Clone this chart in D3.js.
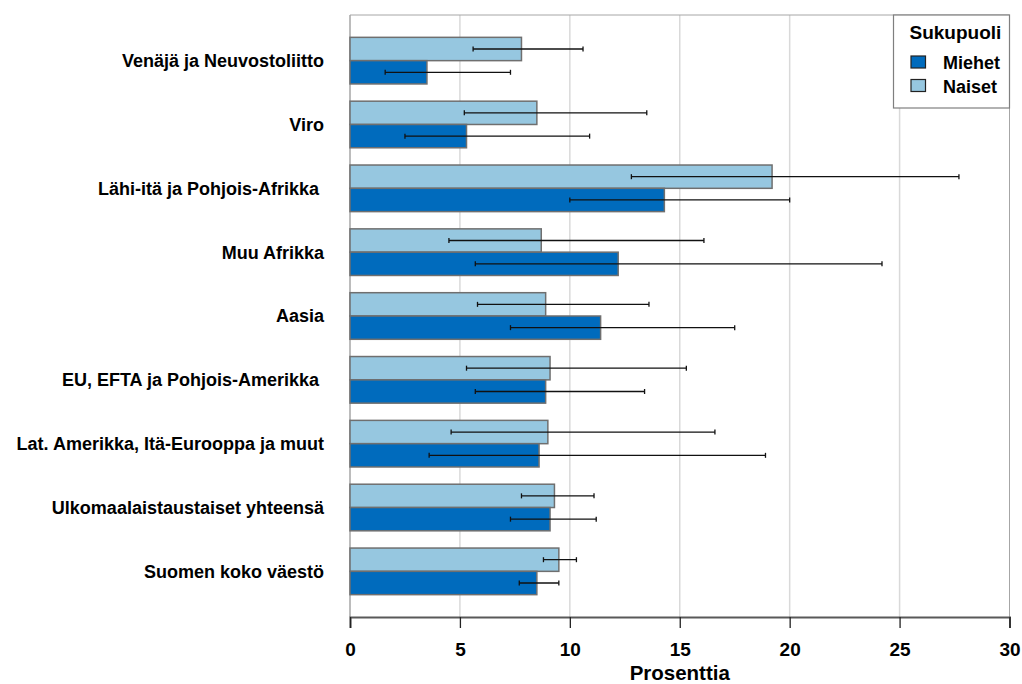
<!DOCTYPE html>
<html><head><meta charset="utf-8">
<script src="https://cdn.jsdelivr.net/npm/d3@7"></script>
<style>
body{margin:0;background:#fff}
text{font-family:"Liberation Sans",Arial,sans-serif;fill:#000}
</style>
</head><body><svg id="c" width="1022" height="684"></svg>
<script>
const categories = ["Venäjä ja Neuvostoliitto","Viro","Lähi-itä ja Pohjois-Afrikka\u00a0","Muu Afrikka","Aasia","EU, EFTA ja Pohjois-Amerikka\u00a0","Lat. Amerikka, Itä-Eurooppa ja muut","Ulkomaalaistaustaiset yhteensä","Suomen koko väestö"];
const seriesNames = ["Naiset","Miehet"];
const legendOrder = ["Miehet","Naiset"];
const naiset     = [7.8, 8.5, 19.2, 8.7, 8.9, 9.1, 9.0, 9.3, 9.5];
const naisetLow  = [5.6, 5.2, 12.8, 4.5, 5.8, 5.3, 4.6, 7.8, 8.8];
const naisetHigh = [10.6, 13.5, 27.7, 16.1, 13.6, 15.3, 16.6, 11.1, 10.3];
const miehet     = [3.5, 5.3, 14.3, 12.2, 11.4, 8.9, 8.6, 9.1, 8.5];
const miehetLow  = [1.6, 2.5, 10.0, 5.7, 7.3, 5.7, 3.6, 7.3, 7.7];
const miehetHigh = [7.3, 10.9, 20.0, 24.2, 17.5, 13.4, 18.9, 11.2, 9.5];
const xTicks = [0, 5, 10, 15, 20, 25, 30];
const xTitle = "Prosenttia";
const legendTitle = "Sukupuoli";

const colors = {Miehet: "#006bbd", Naiset: "#96c7e0"};
const values = {Naiset: naiset, Miehet: miehet};
const lows = {Naiset: naisetLow, Miehet: miehetLow};
const highs = {Naiset: naisetHigh, Miehet: miehetHigh};

const L = 350, R = 1009.5, T = 15, B = 617;
const svg = d3.select("#c");
const x = d3.scaleLinear().domain([0, 30]).range([L, R]);
const y = d3.scaleBand().domain(categories).range([T, B]).paddingInner(0.27).paddingOuter(0.35);
const ys = d3.scaleBand().domain(seriesNames).range([0, y.bandwidth()]);

// gridlines
svg.append("g").selectAll("line").data(xTicks.filter(t => t > 0 && t < 30)).join("line")
  .attr("x1", d => x(d)).attr("x2", d => x(d)).attr("y1", T).attr("y2", B)
  .attr("stroke", "#d9d9d9").attr("stroke-width", 1.5);

// frame
svg.append("line").attr("x1", L).attr("x2", R).attr("y1", T).attr("y2", T).attr("stroke", "#a6a6a6").attr("stroke-width", 1);
svg.append("line").attr("x1", R).attr("x2", R).attr("y1", T).attr("y2", B).attr("stroke", "#a6a6a6").attr("stroke-width", 1);
svg.append("line").attr("x1", L).attr("x2", L).attr("y1", T).attr("y2", B).attr("stroke", "#a6a6a6").attr("stroke-width", 1.5);

// bars
const rows = [];
categories.forEach((c, i) => seriesNames.forEach(s => rows.push({c, s, v: values[s][i], lo: lows[s][i], hi: highs[s][i]})));
svg.append("g").selectAll("rect").data(rows).join("rect")
  .attr("x", x(0)).attr("y", d => y(d.c) + ys(d.s))
  .attr("width", d => x(d.v) - x(0)).attr("height", ys.bandwidth())
  .attr("fill", d => colors[d.s]).attr("stroke", "#6f6f6f").attr("stroke-width", 1.5);

// error bars
const eb = svg.append("g").attr("stroke", "#111").attr("stroke-width", 1.3);
rows.forEach(d => {
  const cy = y(d.c) + ys(d.s) + ys.bandwidth() / 2;
  eb.append("line").attr("x1", x(d.lo)).attr("x2", x(d.hi)).attr("y1", cy).attr("y2", cy);
  eb.append("line").attr("x1", x(d.lo)).attr("x2", x(d.lo)).attr("y1", cy - 2.5).attr("y2", cy + 2.5);
  eb.append("line").attr("x1", x(d.hi)).attr("x2", x(d.hi)).attr("y1", cy - 2.5).attr("y2", cy + 2.5);
});

// x axis
const xa = svg.append("g").attr("transform", `translate(0,${B})`)
  .call(d3.axisBottom(x).tickValues(xTicks).tickSize(11).tickPadding(15).tickFormat(d3.format("d")));
xa.select(".domain").attr("stroke", "#595959").attr("stroke-width", 2);
xa.selectAll(".tick line").attr("stroke", "#222").attr("stroke-width", 1.3);
xa.selectAll(".tick text").attr("font-size", 19).attr("font-weight", "bold")
  .style("font-family", '"Liberation Sans",Arial,sans-serif').attr("fill", "#000");
svg.append("text").attr("x", (L + R) / 2).attr("y", 680).attr("text-anchor", "middle")
  .attr("font-size", 20.5).attr("font-weight", "bold").text(xTitle);

// category labels
svg.append("g").selectAll("text").data(categories).join("text")
  .attr("x", 324).attr("y", d => y(d) + y.bandwidth() / 2).attr("dy", "0.36em")
  .attr("text-anchor", "end").attr("font-size", 18).attr("font-weight", "bold")
  .style("white-space", "pre").text(d => d);

// legend
const lg = svg.append("g");
lg.append("rect").attr("x", 893.5).attr("y", 15).attr("width", 116).attr("height", 93)
  .attr("fill", "#fff").attr("stroke", "#7f7f7f").attr("stroke-width", 1.2);
lg.append("text").attr("x", 909.5).attr("y", 38.5).attr("font-size", 19).attr("font-weight", "bold").text(legendTitle);
legendOrder.forEach((s, i) => {
  const yy = 56 + i * 23.5;
  lg.append("rect").attr("x", 911).attr("y", yy).attr("width", 14.5).attr("height", 12)
    .attr("fill", colors[s]).attr("stroke", "#222").attr("stroke-width", 1.2);
  lg.append("text").attr("x", 943).attr("y", yy + 13).attr("font-size", 18).attr("font-weight", "bold").text(s);
});
</script></body></html>
